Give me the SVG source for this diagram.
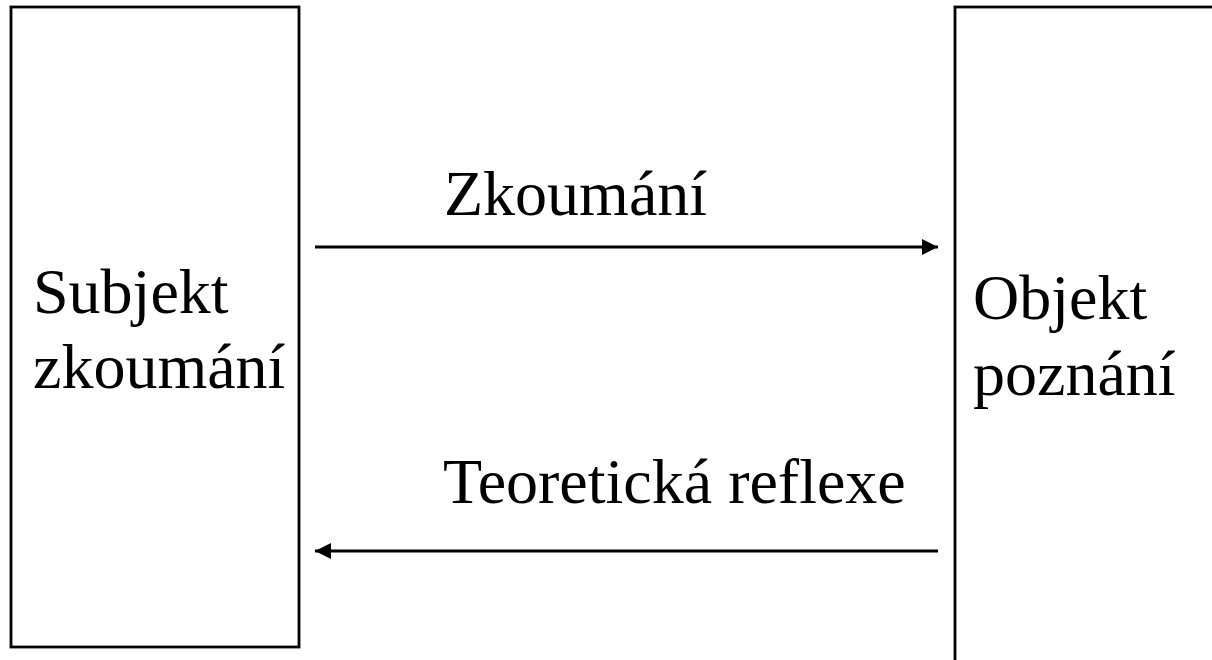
<svg xmlns="http://www.w3.org/2000/svg" width="1212" height="660" viewBox="0 0 1212 660">
<style>
.box{fill:#fff;stroke:#000;stroke-width:2.8}
.t{font-family:"Liberation Serif","Times New Roman",serif;font-size:64px;fill:#000}
.c{stroke:#000;stroke-width:2.8;fill:none}
</style>
<defs>
<marker id="ah" viewBox="0 0 16 16" refX="16" refY="8" markerWidth="16" markerHeight="16" markerUnits="userSpaceOnUse" orient="auto">
<path d="M0,0 L16,8 L0,16 Z" fill="#000"/>
</marker>
</defs>
<rect width="1212" height="660" fill="#fff"/>
<g id="subjekt">
<rect class="box" x="11" y="7" width="288" height="640"/>
<text class="t" x="33" y="313">Subjekt</text>
<text class="t" x="33" y="388">zkoumání</text>
</g>
<g id="objekt">
<rect class="box" x="955" y="7" width="300" height="700"/>
<text class="t" x="973" y="319">Objekt</text>
<text class="t" x="973" y="395">poznání</text>
</g>
<g id="connectors">
<line class="c" x1="315" y1="247" x2="938" y2="247" marker-end="url(#ah)"/>
<line class="c" x1="938" y1="551" x2="315" y2="551" marker-end="url(#ah)"/>
</g>
<g id="labels">
<text class="t" x="444" y="215">Zkoumání</text>
<text class="t" x="443" y="503">Teoretická reflexe</text>
</g>
</svg>
